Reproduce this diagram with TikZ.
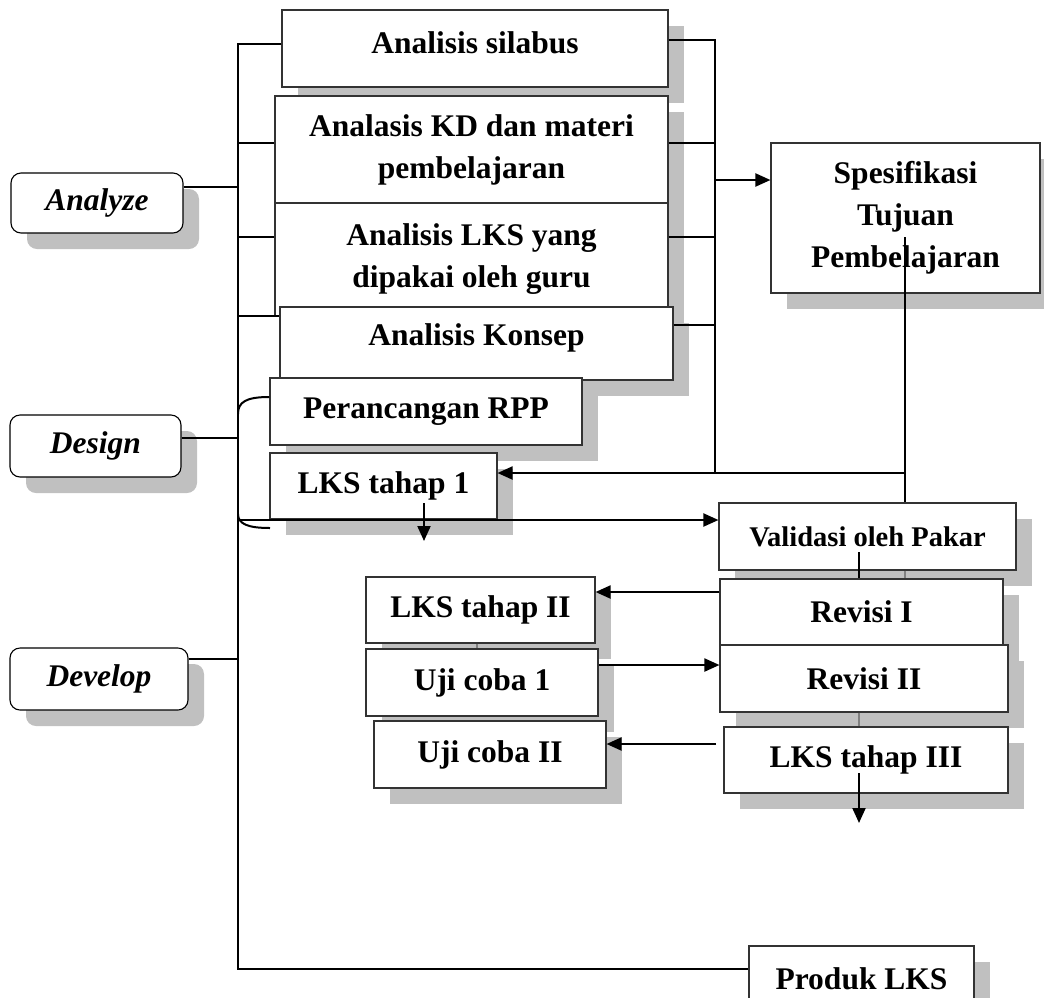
\documentclass[tikz,border=0pt]{standalone}
\usepackage{fontspec}
\setmainfont{Liberation Serif}
\usetikzlibrary{arrows.meta,shadows}
\definecolor{shadowgray}{RGB}{192,192,192}

\begin{document}
\begin{tikzpicture}[x=1pt,y=-1pt,
  box/.style={draw=black!80,line width=1.1pt,fill=white,inner sep=0pt,align=center,
    font=\bfseries\fontsize{31.5}{42}\selectfont,
    drop shadow={shadow xshift=16pt,shadow yshift=-16pt,fill=shadowgray,opacity=1}},
  phase/.style={box,draw=black,rounded corners=10pt,font=\bfseries\itshape\fontsize{31.5}{42}\selectfont},
  link/.style={line width=2pt},
  arr/.style={link,-{Triangle[length=15pt,width=13pt]}},
  faint/.style={line width=1.2pt,draw=gray}]
\useasboundingbox (0,0) rectangle (1044,997);
\clip (0,0) rectangle (1044,997);

% analyze
\node[box,minimum width=386pt,minimum height=77pt,text depth=12pt] (silabus) at (475,48.5) {Analisis silabus};
\node[box,minimum width=393pt,minimum height=107pt] (kd) at (471.5,149.5) {Analasis KD dan materi\\pembelajaran};
\node[box,minimum width=393pt,minimum height=113pt] (lks) at (471.5,259.5) {Analisis LKS yang\\dipakai oleh guru};
\node[box,minimum width=393pt,minimum height=73pt,text depth=18pt] (konsep) at (476.5,343.5) {Analisis Konsep};
\node[box,minimum width=269pt,minimum height=150pt] (spek) at (905.5,218) {Spesifikasi\\Tujuan\\Pembelajaran};

% design
\node[box,minimum width=312pt,minimum height=67pt] (rpp) at (426,411.5) {Perancangan RPP};
\node[box,minimum width=227pt,minimum height=66pt] (lks1) at (383.5,486) {LKS tahap 1};

% develop
\node[box,minimum width=297pt,minimum height=67pt,font=\bfseries\fontsize{28.5}{34}\selectfont] (validasi) at (867.5,536.5) {Validasi oleh Pakar};
\node[box,minimum width=283pt,minimum height=66pt] (revisi1) at (861.5,612) {Revisi I};
\node[box,minimum width=229pt,minimum height=66pt] (lks2) at (480.5,610) {LKS tahap II};
\node[box,minimum width=288pt,minimum height=67pt] (revisi2) at (864,678.5) {Revisi II};
\node[box,minimum width=232pt,minimum height=67pt] (uji1) at (482,682.5) {Uji coba 1};
\node[box,minimum width=284pt,minimum height=66pt] (lks3) at (866,760) {LKS tahap III};
\node[box,minimum width=232pt,minimum height=67pt] (uji2) at (490,754.5) {Uji coba II};
\node[box,minimum width=225pt,minimum height=66pt] (produk) at (861.5,979) {Produk LKS};

% phases
\node[phase,minimum width=172pt,minimum height=60pt] (analyze) at (97,203) {Analyze};
\node[phase,minimum width=171pt,minimum height=62pt] (design) at (95.5,446) {Design};
\node[phase,minimum width=178pt,minimum height=62pt] (develop) at (99,679) {Develop};

% left bus
\coordinate (ltop) at (238,44);
\coordinate (lbot) at (238,969);
\draw[link] (silabus.west |- ltop) -- (ltop) -- (lbot) -- (produk.west |- lbot);
\draw[link] (238,143) -- (kd.west |- 0,143);
\draw[link] (238,237) -- (lks.west |- 0,237);
\draw[link] (238,316) -- (konsep.west |- 0,316);
\draw[link] (analyze.east |- 0,187) -- (238,187);
\draw[link] (design.east |- 0,438) -- (238,438);
\draw[link] (develop.east |- 0,659) -- (238,659);

% bracket of design
\draw[link] (rpp.west |- 0,397) .. controls (246,397) and (238,402) .. (238,414);
\draw[link] (238,514) .. controls (238,524) and (248,528) .. (270,528);
\coordinate (bk) at (238,520);
\draw[arr] (bk) -- (validasi.west |- bk);
\draw[arr] (424,503) -- (424,541);

% right bus
\coordinate (rtop) at (715,40);
\coordinate (sj) at (905,473);
\draw[link] (silabus.east |- rtop) -- (rtop) -- (rtop |- sj);
\draw[link] (kd.east |- 0,143) -- (715,143);
\draw[link] (lks.east |- 0,237) -- (715,237);
\draw[link] (konsep.east |- 0,325) -- (715,325);
\draw[arr] (715,180) -- (spek.west |- 0,180);
\draw[link] (sj |- 0,237) -- (sj) -- (validasi.north -| sj);
\draw[arr] (sj) -- (lks1.east |- sj);

% develop steps
\draw[link] (859,552) -- (revisi1.north -| 859,0);
\draw[faint] (validasi.south -| sj) -- (revisi1.north -| sj);
\draw[arr] (revisi1.west |- 0,592) -- (lks2.east |- 0,592);
\draw[faint] (lks2.south -| 477,0) -- (uji1.north -| 477,0);
\draw[arr] (uji1.east |- 0,665) -- (revisi2.west |- 0,665);
\draw[faint] (revisi2.south -| 859,0) -- (lks3.north -| 859,0);
\draw[arr] (716,744) -- (uji2.east |- 0,744);
\draw[arr] (859,773) -- (859,823);
\end{tikzpicture}
\end{document}
